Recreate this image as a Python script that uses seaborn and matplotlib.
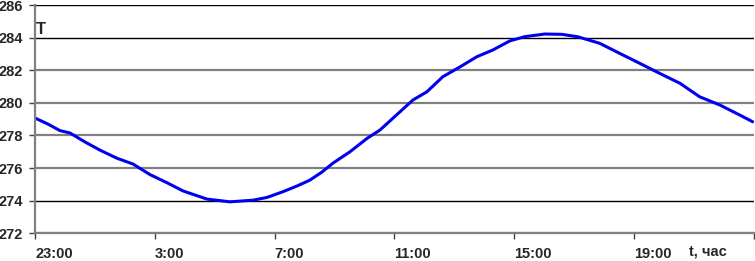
import numpy as np
import pandas as pd
import matplotlib
matplotlib.use("Agg")
import matplotlib.pyplot as plt
import seaborn as sns

# hours counted from 23:00
hours = [0.0, 0.43, 0.83, 1.17, 1.67, 2.17, 2.74, 3.27, 3.84, 4.41, 4.94, 5.74,
         6.51, 7.28, 7.75, 8.28, 8.75, 9.18, 9.58, 9.95, 10.52, 11.09, 11.52,
         11.95, 12.62, 13.09, 13.62, 14.19, 14.76, 15.29, 15.86, 16.36, 17.03,
         17.60, 18.13, 18.86, 19.53, 20.20, 20.87, 21.54, 22.20, 22.87, 23.54, 23.97]
temp = [279.07, 278.7, 278.3, 278.15, 277.6, 277.1, 276.6, 276.25, 275.6, 275.1,
        274.6, 274.1, 273.93, 274.03, 274.2, 274.55, 274.9, 275.26, 275.75, 276.3,
        277.0, 277.82, 278.33, 279.05, 280.17, 280.68, 281.6, 282.2, 282.83, 283.24,
        283.8, 284.06, 284.22, 284.2, 284.05, 283.65, 283.03, 282.42, 281.8, 281.2,
        280.37, 279.87, 279.25, 278.84]
xticks = [0, 4, 8, 12, 16, 20, 24]
xlabels = ["23:00", "3:00", "7:00", "11:00", "15:00", "19:00", ""]
yticks = [272, 274, 276, 278, 280, 282, 284, 286]
black_grid = [274, 284, 286]

df = pd.DataFrame({"t": hours, "T": temp})

sns.set_style("white")
plt.rcParams['font.family'] = ['Liberation Sans', 'DejaVu Sans']
plt.rcParams['font.weight'] = 'bold'

fig = plt.figure(figsize=(7.55, 2.61), dpi=100)
ax = fig.add_axes([35 / 755, 1 - 233.3 / 261, 718.6 / 755, 228.3 / 261])

ax.set_xlim(0, 24)
ax.set_ylim(272, 286)
ax.set_yticks(yticks)
ax.set_yticklabels([str(v) for v in yticks], fontweight="bold")
ax.set_xticks(xticks)
ax.set_xticklabels(xlabels, ha="left", fontweight="bold")
ax.yaxis.grid(True)
for val, gl in zip(yticks, ax.get_ygridlines()):
    if val in black_grid:
        gl.set_color("black")
        gl.set_linewidth(1.0)
    else:
        gl.set_color("#808080")
        gl.set_linewidth(1.6)

sns.lineplot(data=df, x="t", y="T", color="#0000EE", linewidth=2.2, ax=ax)

for s in ["top", "right"]:
    ax.spines[s].set_visible(False)
for s in ["left", "bottom"]:
    ax.spines[s].set_color("#808080")
    ax.spines[s].set_linewidth(1.6)

ax.tick_params(axis="both", which="both", direction="out", length=4, width=1,
               color="#404040", labelsize=10.5)
ax.tick_params(axis="y", pad=4.5, left=True)
ax.tick_params(axis="x", pad=6, bottom=True)
ax.set_xlabel("")
ax.set_ylabel("")

fig.text(36 / 755, 1 - 30 / 261, "T", fontsize=12, fontweight="bold", va="center", ha="left")
fig.text(689 / 755, 1 - 251 / 261, "t, час", fontsize=10.5, fontweight="bold", va="center", ha="left")

fig.savefig("out.png", dpi=100)
